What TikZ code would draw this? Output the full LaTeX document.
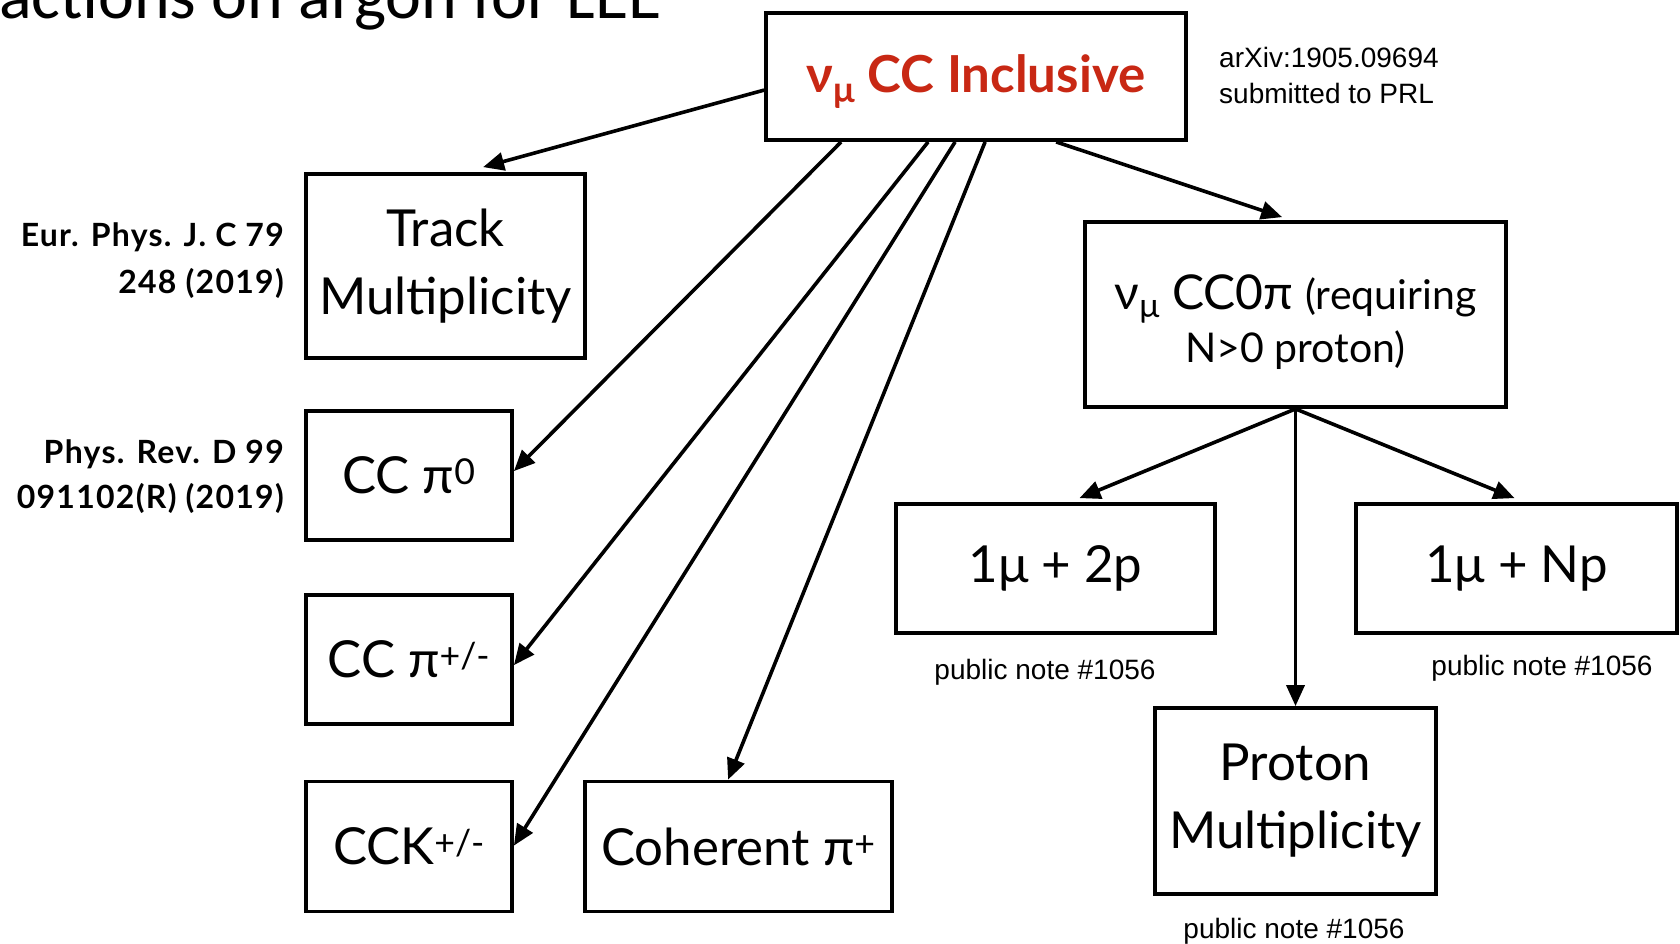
\documentclass[tikz,border=0pt]{standalone}
\usepackage{fontspec}
\setmainfont{Lato}
\newfontfamily\titlefont{Carlito}
\newfontfamily\notefont{Liberation Sans}
\newfontfamily\reffont[LetterSpace=4]{Lato}
\usetikzlibrary{arrows.meta}
\definecolor{incred}{RGB}{200,40,20}
\tikzset{
  box/.style={draw=black, line width=3.8pt, inner sep=0pt, align=center},
  arr/.style={line width=3.6pt, -{Triangle[length=21pt,width=18pt]}},
  bigtxt/.style={font=\fontsize{51}{68}\selectfont},
  reftxt/.style={font=\reffont\bfseries\fontsize{32}{36}\selectfont, anchor=base east, inner sep=0pt},
  notetxt/.style={font=\notefont\fontsize{28}{33}\selectfont, inner sep=0pt},
}
\begin{document}
\begin{tikzpicture}[x=1pt,y=-1pt]
\useasboundingbox (0,0) rectangle (1680,943);
\fill[white] (0,0) rectangle (1680,943);
% title fragment
\node[anchor=base west, inner sep=0pt, font=\titlefont\fontsize{68}{68}\selectfont] (title) at (-1,18) {actions on argon for LEE};
% boxes
\node[box, minimum width=420pt, minimum height=127pt] (inc) at (976,76.5) {\raisebox{-16pt}[0pt][0pt]{\color{incred}\bfseries\fontsize{51}{60}\selectfont ν\textsubscript{μ} CC Inclusive}};
\node[box, bigtxt, minimum width=279pt, minimum height=184pt] (track) at (445.5,266) {Track\\Multiplicity};
\node[box, bigtxt, minimum width=206pt, minimum height=129pt] (pi0) at (409,475.5) {CC π\textsuperscript{0}};
\node[box, bigtxt, minimum width=206pt, minimum height=129pt] (pipm) at (409,659.5) {CC π\textsuperscript{+/-}};
\node[box, bigtxt, minimum width=206pt, minimum height=130pt] (kpm) at (409,846.5) {CCK\textsuperscript{+/-}};
\node[box, bigtxt, minimum width=307pt, minimum height=130pt] (coh) at (738.5,846.5) {Coherent π\textsuperscript{+}};
\node[box, font=\fontsize{41}{53}\selectfont, minimum width=421pt, minimum height=185pt] (cc0pi) at (1295.5,314.5) {\raisebox{-21pt}[0pt][0pt]{\fontsize{48}{53}\selectfont ν\textsubscript{μ} CC0π \fontsize{41}{53}\selectfont(requiring}\\\raisebox{-21pt}[0pt][0pt]{N>0 proton)}};
\node[box, bigtxt, minimum width=319pt, minimum height=129pt] (p2) at (1055.5,568.5) {1μ + 2p};
\node[box, bigtxt, minimum width=321pt, minimum height=129pt] (pN) at (1516.5,568.5) {1μ + Np};
\node[box, bigtxt, minimum width=281pt, minimum height=186pt] (pmult) at (1295.5,801) {Proton\\Multiplicity};
% labels
\node[notetxt, anchor=base west] (arx1) at (1219,67) {arXiv:1905.09694};
\node[notetxt, anchor=base west] (arx2) at (1219,103) {submitted to PRL};
\node[reftxt] (epj1) at (284,246) {Eur. Phys. J. C 79};
\node[reftxt] (epj2) at (284,293) {248 (2019)};
\node[reftxt] (prd1) at (284,463) {Phys. Rev. D 99};
\node[reftxt] (prd2) at (284,508) {091102(R) (2019)};
\node[notetxt, anchor=base] (n1) at (1045,679) {public note \#1056};
\node[notetxt, anchor=base] (n2) at (1542,675) {public note \#1056};
\node[notetxt, anchor=base] (n3) at (1294,938) {public note \#1056};
% arrows
\draw[arr] ([yshift=-79pt]inc.north west) -- ([xshift=179pt,yshift=5pt]track.north west);
\draw[arr] ([xshift=77pt]inc.south west) -- ([yshift=-62pt]pi0.north east);
\draw[arr] ([xshift=164pt]inc.south west) -- ([yshift=-72pt]pipm.north east);
\draw[arr] ([xshift=191pt]inc.south west) -- ([yshift=-66pt]kpm.north east);
\draw[arr] ([xshift=221pt]inc.south west) -- ([xshift=145pt]coh.north west);
\draw[arr] ([xshift=292pt]inc.south west) -- ([xshift=199pt,yshift=3pt]cc0pi.north west);
\draw[arr] (cc0pi.south) -- ([xshift=24pt,yshift=4pt]p2.north);
\draw[arr] (cc0pi.south) -- ([xshift=-2pt,yshift=4pt]pN.north);
\draw[arr] (cc0pi.south) -- (pmult.north);
\end{tikzpicture}
\end{document}
